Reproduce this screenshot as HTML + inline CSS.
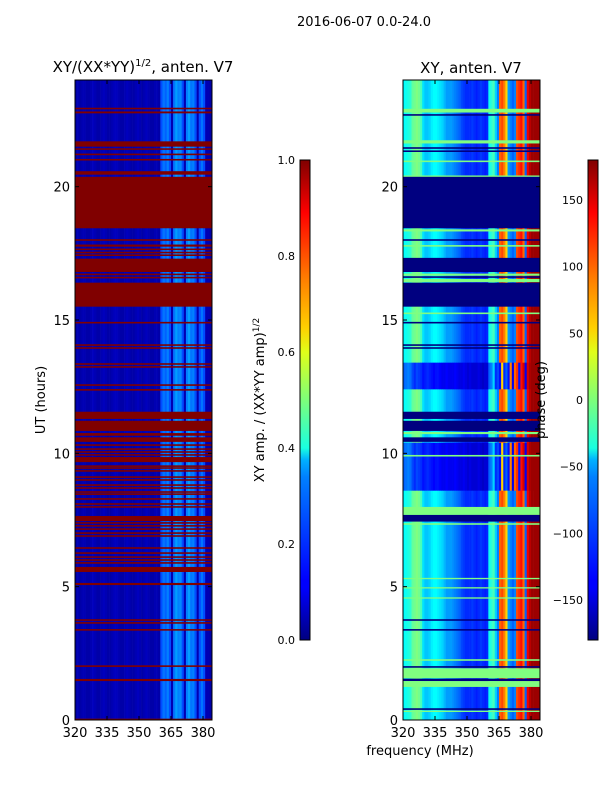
<!DOCTYPE html>
<html><head><meta charset="utf-8">
<style>
html,body{margin:0;padding:0;background:#fff;}
svg{display:block;font-family:"DejaVu Sans","Liberation Sans",sans-serif;}
</style></head>
<body>
<svg id="fig" width="600" height="800" viewBox="0 0 600 800" xmlns="http://www.w3.org/2000/svg">
<defs>
<linearGradient id="jet" x1="0" y1="1" x2="0" y2="0">
<stop offset="0" stop-color="#000080"/><stop offset="0.11" stop-color="#0000ff"/>
<stop offset="0.125" stop-color="#0000ff"/><stop offset="0.34" stop-color="#0080ff"/>
<stop offset="0.375" stop-color="#00b0ff"/><stop offset="0.4" stop-color="#19ffe0"/>
<stop offset="0.5" stop-color="#7dff7a"/><stop offset="0.6" stop-color="#e0ff19"/>
<stop offset="0.65" stop-color="#ffd000"/><stop offset="0.75" stop-color="#ff8000"/>
<stop offset="0.89" stop-color="#ff0000"/><stop offset="1" stop-color="#800000"/>
</linearGradient>
</defs>
<text x="364" y="26" font-size="13" text-anchor="middle">2016-06-07 0.0-24.0</text>
<text x="143" y="72" font-size="15" text-anchor="middle">XY/(XX*YY)<tspan font-size="10" dy="-6">1/2</tspan><tspan dy="6">, anten. V7</tspan></text>
<text x="471" y="73" font-size="15" text-anchor="middle">XY, anten. V7</text>
<g id="left"></g>
<g id="right"></g>
<g id="axes"></g>
<text transform="translate(45,400) rotate(-90)" font-size="13" text-anchor="middle">UT (hours)</text>
<text x="420" y="755" font-size="13" text-anchor="middle">frequency (MHz)</text>
<rect x="300" y="160" width="10" height="480" fill="url(#jet)" stroke="#000" stroke-width="1"/>
<rect x="588" y="160" width="10" height="480" fill="url(#jet)" stroke="#000" stroke-width="1"/>
<text transform="translate(264,400) rotate(-90)" font-size="13" text-anchor="middle">XY amp. / (XX*YY amp)<tspan font-size="9" dy="-5">1/2</tspan></text>
<text transform="translate(545,400) rotate(-90)" font-size="13" text-anchor="middle">phase (deg)</text>
</svg>
<script>
// ---- data ----
const freqStart = 320, freqBins = 64; // 1 MHz bins, 320..384
const ampProfile = [0.04,0.05,0.04,0.05,0.05,0.04,0.04,0.05,0.06,0.05,0.04,0.04,0.05,0.06,0.05,0.04,0.04,0.05,0.06,0.06,0.05,0.04,0.04,0.05,0.06,0.05,0.04,0.04,0.05,0.06,0.05,0.04,0.05,0.06,0.05,0.04,0.04,0.05,0.05,0.04,0.2,0.24,0.22,0.25,0.2,0.05,0.24,0.28,0.25,0.26,0.2,0.05,0.25,0.28,0.24,0.25,0.2,0.05,0.2,0.24,0.2,0.05,0.05,0.04];
const phaseProfile = [-45,-40,-35,-30,-10,-5,0,-5,-20,-55,-65,-65,-60,-50,-45,-45,-50,-55,-60,-70,-80,-80,-80,-85,-90,-95,-100,-110,-115,-120,-120,-120,-115,-120,-125,-120,-115,-120,-125,-120,-40,-30,-20,-60,-90,100,110,90,60,-80,-90,-100,-90,110,120,130,100,-100,140,160,170,170,170,170];
const phaseProfileB = [-100,-95,-90,-95,-110,-120,-110,-115,-120,-130,-125,-120,-125,-130,-135,-130,-130,-135,-140,-140,-135,-140,-140,-140,-135,-140,-145,-145,-140,-145,-150,-145,-150,-150,-150,-145,-150,-155,-150,-150,-100,-90,-60,-120,-110,-130,60,-120,-100,-130,90,-140,100,120,-130,130,150,-140,150,165,170,170,170,170];
const phaseSegStart = [8.6, 12.4];
const phaseSegEnd = [10.4, 13.4];
const ampFlagStart = [22.75,22.9,21.5,21.38,21.18,20.98,20.45,20.3,20.1,18.44,17.97,17.75,17.62,17.5,17.4,16.8,16.68,16.56,15.5,14.87,14.03,13.92,13.32,13.21,12.53,12.35,11.29,10.84,10.66,10.43,10.28,10.13,10.02,9.91,9.67,9.49,9.42,9.31,9.08,8.97,8.78,8.67,8.52,8.44,8.26,8.07,7.96,7.46,7.36,7.25,7.13,6.98,6.87,6.42,6.23,6.08,5.97,5.86,5.55,5.06,3.72,3.61,3.35,1.99,1.46,0];
const ampFlagEnd   = [22.82,22.96,21.7,21.44,21.24,21.04,20.58,20.36,20.16,20.37,18.03,17.83,17.68,17.56,17.46,17.3,16.74,16.62,16.4,14.93,14.09,13.98,13.38,13.27,12.59,12.41,11.56,11.22,10.76,10.6,10.34,10.19,10.08,9.97,9.86,9.55,9.48,9.37,9.14,9.03,8.84,8.73,8.58,8.5,8.32,8.13,8.02,7.65,7.42,7.31,7.19,7.04,6.93,6.48,6.29,6.14,6.03,5.92,5.74,5.14,3.78,3.67,3.41,2.05,1.54,0.05];
const phaseFlagStart = [22.78,22.66,21.62,21.42,21.3,20.92,20.36,18.44,18.32,17.97,17.75,16.8,16.66,16.58,16.42,15.5,15.22,14.87,14.03,13.92,11.29,10.84,10.72,10.43,9.88,7.69,7.44,7.32,5.28,4.93,4.55,3.72,3.35,2.22,1.96,1.57,1.46,1.24,0.38,0.3];
const phaseFlagEnd   = [22.92,22.72,21.74,21.48,21.36,20.98,20.42,20.37,18.4,18.03,17.81,17.33,16.74,16.64,16.54,16.4,15.28,14.93,14.09,13.98,11.56,11.22,10.8,10.6,9.94,7.99,7.69,7.38,5.33,4.98,4.6,3.78,3.41,2.28,2.02,1.94,1.55,1.46,0.44,0.35];
const phaseFlagVal   = [0,-180,0,-180,-180,0,0,-180,0,-180,0,-180,0,-180,0,-180,0,-180,-180,-180,-180,-180,0,-180,0,0,-180,0,0,0,0,-180,-180,0,-180,0,-180,0,-180,0];
const yTicks = [0,5,10,15,20];
const xTicks = [320,335,350,365,380];
const ampCbTicks = ["0.0","0.2","0.4","0.6","0.8","1.0"];
const phaseCbTicks = [-150,-100,-50,0,50,100,150];

// ---- helpers ----
const NS="http://www.w3.org/2000/svg";
function jet(v){v=Math.max(0,Math.min(1,v));
 const r=Math.max(0,Math.min(1,1.5-Math.abs(4*v-3))),g=Math.max(0,Math.min(1,1.5-Math.abs(4*v-2))),b=Math.max(0,Math.min(1,1.5-Math.abs(4*v-1)));
 return `rgb(${Math.round(r*255)},${Math.round(g*255)},${Math.round(b*255)})`;}
const yOf=h=>720-h*(640/24);
function mk(tag,attrs,parent){const e=document.createElementNS(NS,tag);for(const k in attrs)e.setAttribute(k,attrs[k]);parent.appendChild(e);return e;}
const panels=[{x0:75,id:"left"},{x0:403,id:"right"}];
const pxPerMHz=128/60;
const xOf=(p,f)=>p.x0+(f-freqStart)*pxPerMHz;

// left heatmap
const L=document.getElementById("left");
for(let i=0;i<freqBins;i++){
 const r=mk("rect",{x:xOf(panels[0],freqStart+i),y:80,width:pxPerMHz+0.3,height:640,fill:jet(ampProfile[i])},L);
 
 
}
for(let k=0;k<ampFlagStart.length;k++){
 const y1=yOf(ampFlagEnd[k]),y2=yOf(ampFlagStart[k]);
 const r=mk("rect",{x:75,y:y1,width:137,height:Math.max(1,y2-y1),fill:jet(1)},L);
 
 
}
// right heatmap
const R=document.getElementById("right");
const ph=v=>jet((v+180)/360);
for(let i=0;i<freqBins;i++){
 const r=mk("rect",{x:xOf(panels[1],freqStart+i),y:80,width:pxPerMHz+0.3,height:640,fill:ph(phaseProfile[i])},R);
 
 
}
for(let s=0;s<phaseSegStart.length;s++){
 const y1=yOf(phaseSegEnd[s]),y2=yOf(phaseSegStart[s]);
 for(let i=0;i<freqBins;i++){
  const r=mk("rect",{x:xOf(panels[1],freqStart+i),y:y1,width:pxPerMHz+0.3,height:y2-y1,fill:ph(phaseProfileB[i])},R);
  
  
 }
}
for(let k=0;k<phaseFlagStart.length;k++){
 const y1=yOf(phaseFlagEnd[k]),y2=yOf(phaseFlagStart[k]);
 const r=mk("rect",{x:403,y:y1,width:137,height:Math.max(1,y2-y1),fill:ph(phaseFlagVal[k])},R);
 
 
}
// axes
const A=document.getElementById("axes");
panels.forEach(p=>{
 const fr=mk("rect",{x:p.x0,y:80,width:137,height:640,fill:"none",stroke:"#000","stroke-width":1},A);
 
 
 yTicks.forEach(t=>{const y=yOf(t);
  mk("line",{x1:p.x0,x2:p.x0+4,y1:y,y2:y,stroke:"#000"},A);
  mk("line",{x1:p.x0+137,x2:p.x0+133,y1:y,y2:y,stroke:"#000"},A);
  const tx=mk("text",{x:p.x0-5,y:y+5,"font-size":13,"text-anchor":"end"},A);tx.textContent=t;
  
  
 });
 xTicks.forEach(t=>{const x=xOf(p,t);
  mk("line",{x1:x,x2:x,y1:720,y2:716,stroke:"#000"},A);
  mk("line",{x1:x,x2:x,y1:80,y2:84,stroke:"#000"},A);
  const tx=mk("text",{x:x,y:737,"font-size":13,"text-anchor":"middle"},A);tx.textContent=t;
  
  
 });
});
ampCbTicks.forEach((t,i)=>{const y=640-i*96;
 mk("line",{x1:300,x2:303,y1:y,y2:y,stroke:"#000"},A);mk("line",{x1:310,x2:307,y1:y,y2:y,stroke:"#000"},A);
 const tx=mk("text",{x:295,y:y+4,"font-size":11,"text-anchor":"end"},A);tx.textContent=t;
 
 
});
phaseCbTicks.forEach(t=>{const y=400-t*(480/360);
 mk("line",{x1:588,x2:591,y1:y,y2:y,stroke:"#000"},A);mk("line",{x1:598,x2:595,y1:y,y2:y,stroke:"#000"},A);
 const tx=mk("text",{x:583,y:y+4,"font-size":11,"text-anchor":"end"},A);tx.textContent=(t<0?"\u2212"+(-t):t);
 
 
});
</script>
</body></html>
